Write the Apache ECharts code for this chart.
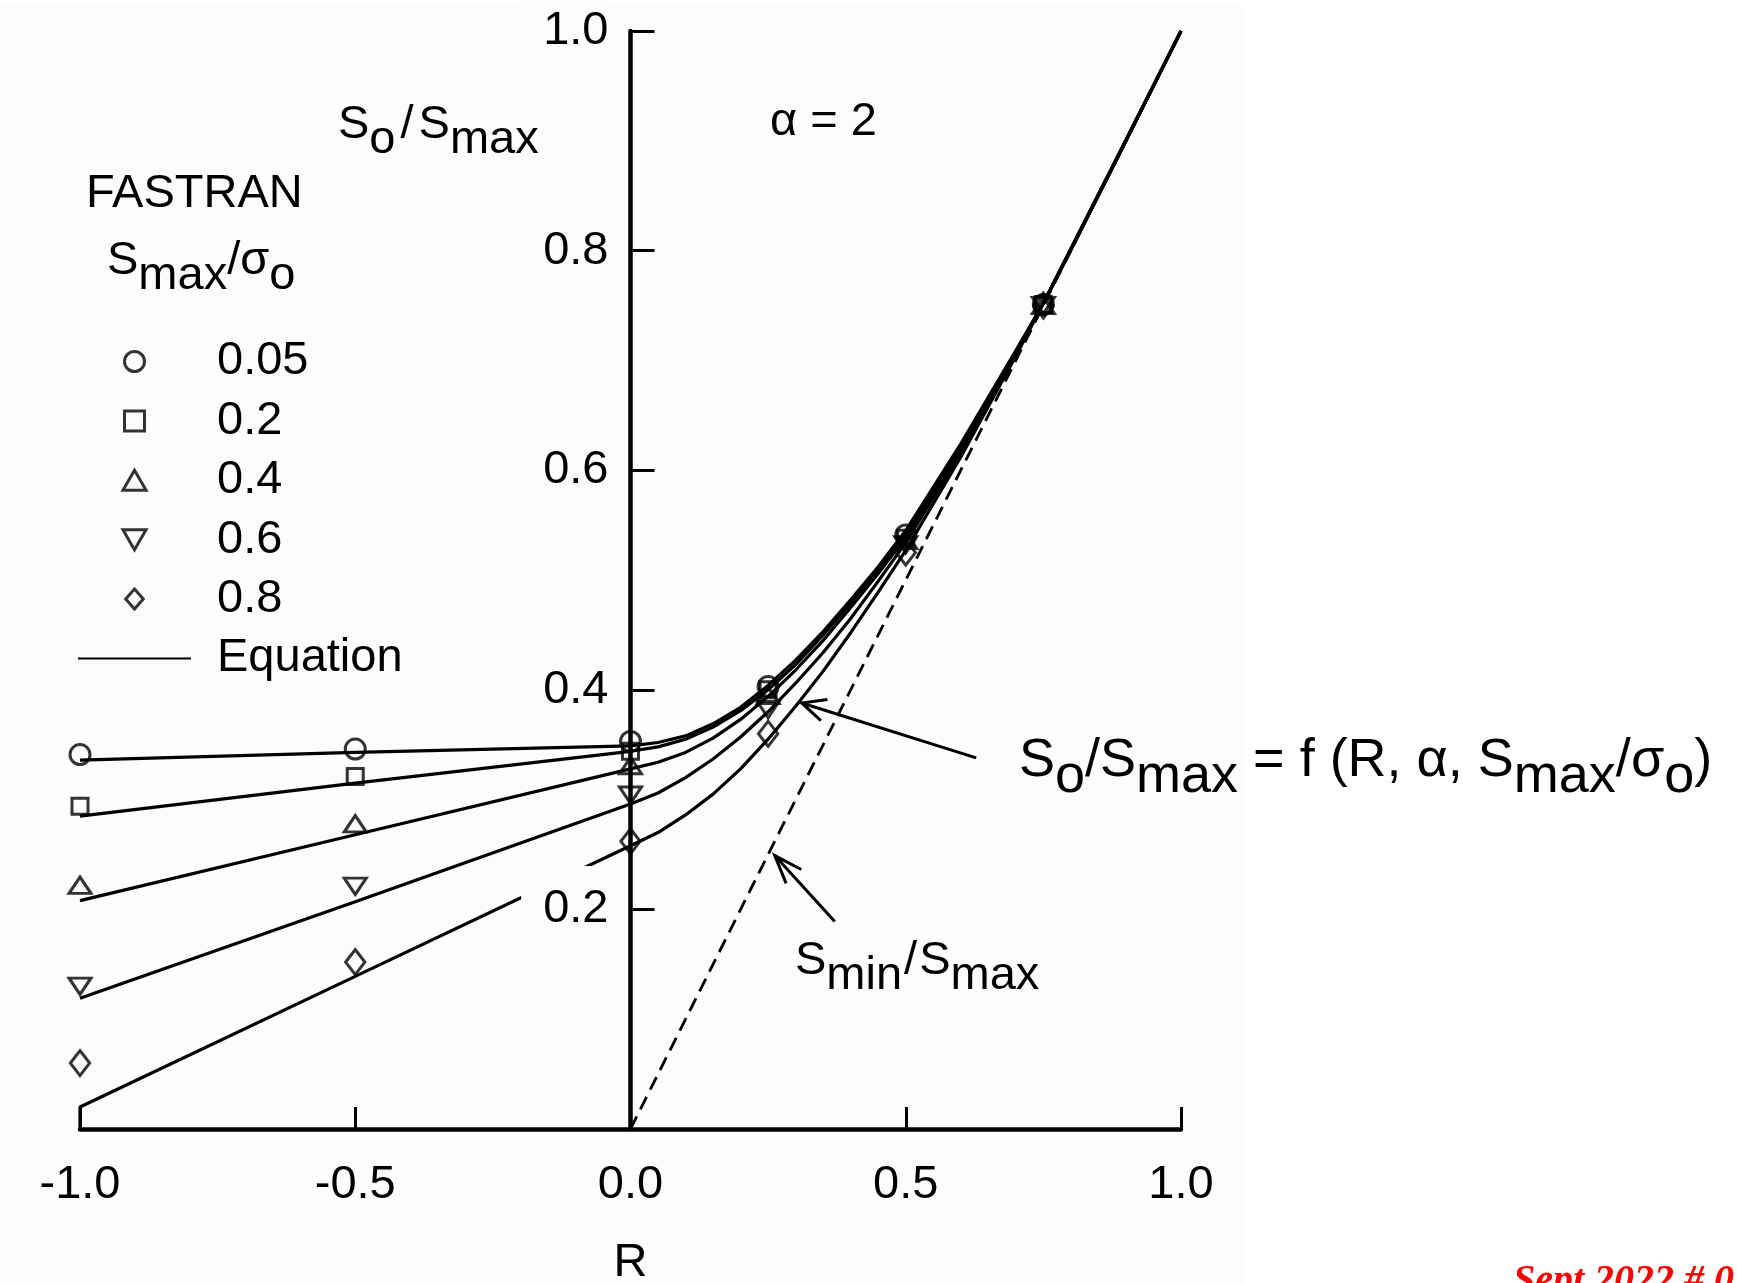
<!DOCTYPE html>
<html><head><meta charset="utf-8">
<script src="https://cdn.jsdelivr.net/npm/echarts@6/dist/echarts.min.js"></script>
<style>html,body{margin:0;padding:0;background:#fff}#c{width:1737px;height:1283px}</style>
</head><body><div id="c"></div>
<script>
// ---- tick labels ----
const xTickLabels = ['-1.0', '-0.5', '0.0', '0.5', '1.0'];
const yTickLabels = ['0.0', '0.2', '0.4', '0.6', '0.8', '1.0'];

// ---- FASTRAN results (markers) ----
const fastranR = [-1, -0.5, 0, 0.25, 0.5, 0.75];
const fastran005 = [0.341, 0.346, 0.353, 0.403, 0.541, 0.751];
const fastran02  = [0.294, 0.321, 0.344, 0.400, 0.538, 0.751];
const fastran04  = [0.222, 0.278, 0.331, 0.395, 0.536, 0.750];
const fastran06  = [0.130, 0.221, 0.304, 0.382, 0.532, 0.750];
const fastran08  = [0.060, 0.152, 0.262, 0.360, 0.525, 0.750];

// ---- Equation curves ----
const eqR   = [-1, -0.5, 0, 0.05, 0.1, 0.15, 0.2, 0.25, 0.3, 0.35, 0.4, 0.45, 0.5, 0.6, 0.7, 0.75, 0.8, 0.9, 1.0];
const eq005 = [0.336, 0.343, 0.349, 0.352, 0.358, 0.369, 0.384, 0.404, 0.427, 0.453, 0.482, 0.512, 0.545, 0.624, 0.709, 0.752, 0.802, 0.901, 1.0];
const eq02  = [0.285, 0.315, 0.344, 0.348, 0.355, 0.366, 0.381, 0.400, 0.423, 0.450, 0.479, 0.509, 0.542, 0.621, 0.708, 0.752, 0.801, 0.900, 1.0];
const eq04  = [0.208, 0.268, 0.328, 0.334, 0.343, 0.356, 0.373, 0.394, 0.418, 0.445, 0.475, 0.506, 0.539, 0.619, 0.707, 0.752, 0.801, 0.900, 1.0];
const eq06  = [0.119, 0.207, 0.296, 0.306, 0.320, 0.337, 0.357, 0.380, 0.406, 0.434, 0.465, 0.499, 0.534, 0.616, 0.706, 0.752, 0.801, 0.900, 1.0];
const eqR08 = [-1, -1, -0.5, 0, 0.05, 0.1, 0.15, 0.2, 0.25, 0.3, 0.35, 0.4, 0.45, 0.5, 0.6, 0.7, 0.75, 0.8, 0.9, 1.0];
const eq08  = [0, 0.020, 0.139, 0.258, 0.270, 0.286, 0.305, 0.328, 0.355, 0.385, 0.417, 0.452, 0.489, 0.527, 0.612, 0.704, 0.752, 0.801, 0.900, 1.0];

// ---- Smin/Smax line ----
const sminR = [0, 1];
const sminV = [0, 1];

const legendNames = ['0.05', '0.2', '0.4', '0.6', '0.8', 'Equation'];

// ---- annotation arrows (data coordinates) ----
const arrowSo   = { tail: [0.628, 0.338], tip: [0.311, 0.388] };
const arrowSmin = { tail: [0.371, 0.189], tip: [0.262, 0.249] };

const FONT = '"Liberation Sans", Arial, Helvetica, sans-serif';
const zip = (xs, ys) => xs.map((x, i) => [x, ys[i]]);

const chart = echarts.init(document.getElementById('c'), null, { renderer: 'canvas' });

const GRID = { left: 80, right: 556, top: 31, bottom: 154 };
const plotW = 1737 - GRID.left - GRID.right;

const markerDefs = [
  { name: '0.05', vals: fastran005, symbol: 'circle', size: 20 },
  { name: '0.2',  vals: fastran02,  symbol: 'path://M0,0L16,0L16,16L0,16Z', size: [16, 16] },
  { name: '0.4',  vals: fastran04,  symbol: 'path://M11,0L22,19L0,19Z', size: [22, 19] },
  { name: '0.6',  vals: fastran06,  symbol: 'path://M0,0L22,0L11,19Z', size: [22, 19] },
  { name: '0.8',  vals: fastran08,  symbol: 'path://M11,0L22,12.5L11,25L0,12.5Z', size: [22, 25] }
];
const curveDefs = [
  { r: eqR, v: eq005 }, { r: eqR, v: eq02 }, { r: eqR, v: eq04 }, { r: eqR, v: eq06 }, { r: eqR08, v: eq08 }
];

const series = [];
curveDefs.forEach(c => series.push({
  type: 'line', name: 'Equation', data: zip(c.r, c.v), symbol: 'none', silent: true,
  lineStyle: { color: '#000', width: 3.2 },
  itemStyle: { color: 'rgba(0,0,0,0)', borderColor: 'rgba(0,0,0,0)', borderWidth: 0 }, z: 3
}));
series.push({
  type: 'line', name: 'Smin/Smax', data: zip(sminR, sminV), symbol: 'none', silent: true,
  lineStyle: { color: '#000', width: 2.8, type: [14, 8] }, z: 2
});
markerDefs.forEach(m => series.push({
  type: 'scatter', name: m.name, data: zip(fastranR, m.vals), symbol: m.symbol,
  symbolSize: m.size, symbolKeepAspect: true, silent: true, z: 4,
  itemStyle: { color: 'rgba(0,0,0,0)', borderColor: '#000', borderWidth: 3 }
}));

chart.setOption({
  animation: false,
  backgroundColor: '#ffffff',
  grid: Object.assign({ containLabel: false, outerBoundsMode: 'none' }, GRID),
  legend: {
    data: legendNames.map(n => n === 'Equation'
      ? { name: n, itemStyle: { color: 'rgba(0,0,0,0)', borderColor: 'rgba(0,0,0,0)', borderWidth: 0 } }
      : { name: n }),
    orient: 'vertical', left: 77, top: 338, padding: 0,
    itemWidth: 113, itemHeight: 20, itemGap: 12.4, selectedMode: false,
    symbolKeepAspect: true,
    itemStyle: { borderWidth: 3 },
    textStyle: { fontSize: 47, fontFamily: FONT, color: '#000', lineHeight: 47, padding: [0, 0, 0, 21] }
  },
  xAxis: {
    type: 'value', min: -1, max: 1, interval: 0.5,
    name: 'R', nameLocation: 'middle', nameGap: 111,
    nameTextStyle: { fontSize: 47, fontFamily: FONT, color: '#000' },
    axisLine: { onZero: false, lineStyle: { color: '#000', width: 4.5 } },
    axisTick: { inside: true, length: 22, lineStyle: { color: '#000', width: 3 } },
    axisLabel: { margin: 33, fontSize: 47, fontFamily: FONT, color: '#000',
      formatter: v => xTickLabels[Math.round((v + 1) / 0.5)] },
    splitLine: { show: false }
  },
  yAxis: {
    type: 'value', min: 0, max: 1, interval: 0.2, z: 5,
    position: 'left', offset: -plotW / 2,
    axisLine: { onZero: false, lineStyle: { color: '#000', width: 4.5 } },
    axisTick: { inside: true, length: 24, lineStyle: { color: '#000', width: 3 } },
    axisLabel: { margin: 22, fontSize: 47, fontFamily: FONT, color: '#000', showMinLabel: false,
      backgroundColor: '#fcfcfc', padding: [20, 0, 20, 22],
      formatter: v => yTickLabels[Math.round(v / 0.2)] },
    splitLine: { show: false }
  },
  series: series
});

// ---- text & annotation graphics ----
function richText(x, yCenter, text, size, drop, slashPad) {
  const base = { fontSize: size, fontFamily: FONT, fill: '#000' };
  return {
    type: 'text', x: x, y: yCenter - size / 2, z: 100, silent: true,
    style: {
      text: text, fontSize: size, fontFamily: FONT, fill: '#000',
      align: 'left', verticalAlign: 'top', textAlign: 'left', textVerticalAlign: 'top',
      rich: {
        m: Object.assign({ lineHeight: size, verticalAlign: 'top' }, base),
        d: Object.assign({ lineHeight: size, verticalAlign: 'top', padding: [0, slashPad || 0, 0, slashPad || 0] }, base),
        s: Object.assign({ lineHeight: size + drop, verticalAlign: 'bottom' }, base)
      }
    }
  };
}
function plainText(x, yCenter, text, size) {
  return {
    type: 'text', x: x, y: yCenter, z: 100, silent: true,
    style: { text: text, fontSize: size, fontFamily: FONT, fill: '#000',
      align: 'left', verticalAlign: 'middle', textAlign: 'left', textVerticalAlign: 'middle' }
  };
}
function arrowEls(a, len, halfDeg) {
  const p0 = chart.convertToPixel({ gridIndex: 0 }, a.tail);
  const p1 = chart.convertToPixel({ gridIndex: 0 }, a.tip);
  const ang = Math.atan2(p0[1] - p1[1], p0[0] - p1[0]);
  const h = halfDeg * Math.PI / 180;
  const w1 = [p1[0] + len * Math.cos(ang + h), p1[1] + len * Math.sin(ang + h)];
  const w2 = [p1[0] + len * Math.cos(ang - h), p1[1] + len * Math.sin(ang - h)];
  return [
    { type: 'line', z: 50, silent: true, shape: { x1: p0[0], y1: p0[1], x2: p1[0], y2: p1[1] },
      style: { stroke: '#000', lineWidth: 3 } },
    { type: 'polyline', z: 50, silent: true, shape: { points: [w1, p1, w2] },
      style: { stroke: '#000', lineWidth: 3, fill: null } }
  ];
}

const graphics = [
  { type: 'rect', z: -100, silent: true, shape: { x: 0, y: 3, width: 1243, height: 1280 }, style: { fill: '#fcfcfc' } },
  richText(338, 125, '{m|S}{s|o}{d|/}{m|S}{s|max}', 47, 15, 5),
  plainText(770, 122, 'α = 2', 47),
  plainText(86, 194, 'FASTRAN', 47),
  richText(107, 261, '{m|S}{s|max}{m|/σ}{s|o}', 47, 15, 0),
  richText(1019, 761, '{m|S}{s|o}{m|/S}{s|max}{m| = f (R, α, S}{s|max}{m|/σ}{s|o}{m|)}', 54, 16, 0),
  richText(795, 961, '{m|S}{s|min}{d|/}{m|S}{s|max}', 47, 15, 2),
  { type: 'text', x: 1513, y: 1262, z: 100, silent: true,
    style: { text: 'Sept 2022 # 0', fontSize: 40, fontWeight: 'bold', fontStyle: 'italic',
      fontFamily: '"Liberation Serif", "Times New Roman", serif', fill: '#ff0000',
      align: 'left', verticalAlign: 'top', textAlign: 'left', textVerticalAlign: 'top' } }
].concat(arrowEls(arrowSo, 26, 25), arrowEls(arrowSmin, 30, 20));

chart.setOption({ graphic: graphics });
</script>
</body></html>
